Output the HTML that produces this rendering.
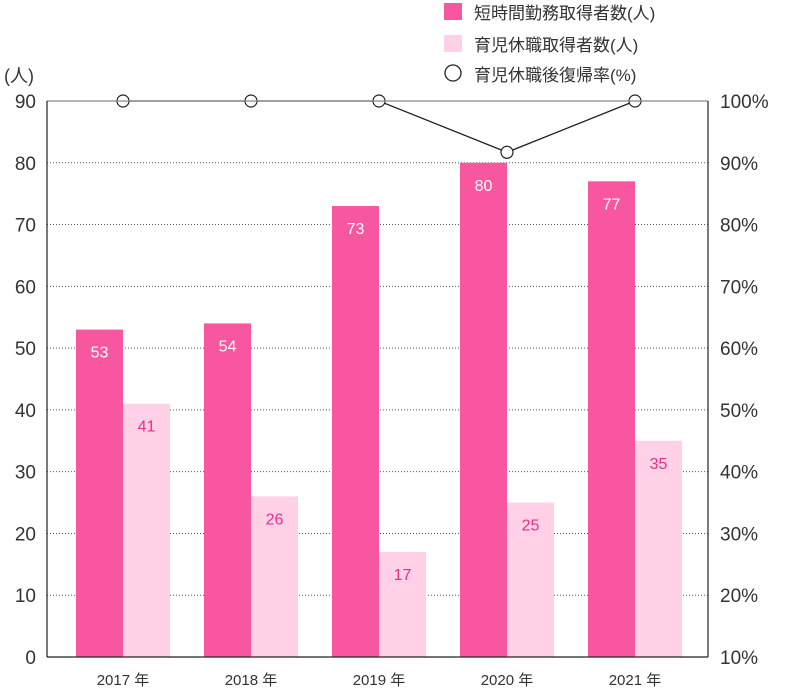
<!DOCTYPE html>
<html><head><meta charset="utf-8"><style>
body{margin:0;background:#fff;}
svg text{font-family:"Liberation Sans","Noto Sans CJK JP",sans-serif;}
</style></head><body>
<svg width="785" height="692" xmlns="http://www.w3.org/2000/svg">
<g id="grid"></g><g id="bars"></g><g id="line"></g><g id="axes"></g>
<g>
<rect x="444" y="3" width="18" height="17" fill="#f857a0"/>
<text x="474" y="19" font-size="17" fill="#333">短時間勤務取得者数(人)</text>
<rect x="444" y="35" width="18" height="17" fill="#ffd0e6"/>
<text x="474" y="51" font-size="17" fill="#333">育児休職取得者数(人)</text>
<circle cx="453" cy="73" r="8" fill="#fff" stroke="#222" stroke-width="1.3"/>
<text x="474" y="81" font-size="17" fill="#333">育児休職後復帰率(%)</text>
</g>
<text x="4" y="82" font-size="18" fill="#333">(人)</text>
</svg>
<script>
const categories=["2017 年","2018 年","2019 年","2020 年","2021 年"];
const shortHours=[53,54,73,80,77];
const leave=[41,26,17,25,35];
const returnRate=[100,100,100,91.7,100];
const leftTicks=[0,10,20,30,40,50,60,70,80,90];
const rightTicks=["10%","20%","30%","40%","50%","60%","70%","80%","90%","100%"];
const NS="http://www.w3.org/2000/svg";
const L=47,R=708,T=101,B=657;
const y=v=>B-(v/90)*(B-T);
const yr=p=>B-((p-10)/90)*(B-T);
const cx=i=>123+128*i;
function mk(tag,parent,attrs){const e=document.createElementNS(NS,tag);for(const k in attrs)e.setAttribute(k,attrs[k]);document.getElementById(parent).appendChild(e);return e;}
leftTicks.forEach((v,i)=>{
 if(v>0&&v<90){const g=mk('line','grid',{x1:L,x2:R,y1:y(v),y2:y(v),stroke:'#555','stroke-dasharray':'1,2','stroke-width':1});
 
 }
 const t=mk('text','axes',{x:36,y:y(v)+7,'font-size':19,fill:'#333','text-anchor':'end'});t.textContent=v;
 
 
 const r=mk('text','axes',{x:720,y:y(v)+7,'font-size':19,fill:'#333'});r.textContent=rightTicks[i];
 
 
});
let a=mk('line','axes',{x1:L,x2:R,y1:T,y2:T,stroke:'#888','stroke-width':1.2});


a=mk('line','axes',{x1:L,x2:L,y1:T,y2:B,stroke:'#222','stroke-width':1.2});


a=mk('line','axes',{x1:R,x2:R,y1:T,y2:B,stroke:'#222','stroke-width':1.2});


a=mk('line','axes',{x1:L,x2:R,y1:B,y2:B,stroke:'#222','stroke-width':1.2});


categories.forEach((c,i)=>{
 const b1=mk('rect','bars',{x:cx(i)-47,y:y(shortHours[i]),width:47,height:B-y(shortHours[i]),fill:'#f857a0'});
 
 
 const b2=mk('rect','bars',{x:cx(i),y:y(leave[i]),width:47,height:B-y(leave[i]),fill:'#ffd0e6'});
 
 
 const t1=mk('text','bars',{x:cx(i)-23.5,y:y(shortHours[i])+28,'font-size':16,fill:'#fff','text-anchor':'middle'});t1.textContent=shortHours[i];
 
 
 const t2=mk('text','bars',{x:cx(i)+23.5,y:y(leave[i])+28,'font-size':16,fill:'#e8308a','text-anchor':'middle'});t2.textContent=leave[i];
 
 
 const xl=mk('text','axes',{x:cx(i),y:685,'font-size':15,fill:'#333','text-anchor':'middle'});xl.textContent=c;
 
 
});
const pl=mk('polyline','line',{points:returnRate.map((p,i)=>cx(i)+','+yr(p)).join(' '),fill:'none',stroke:'#222','stroke-width':1.3});


returnRate.forEach((p,i)=>{const c=mk('circle','line',{cx:cx(i),cy:yr(p),r:6,fill:'#fff',stroke:'#222','stroke-width':1.2});
 
 });
</script>
</body></html>
